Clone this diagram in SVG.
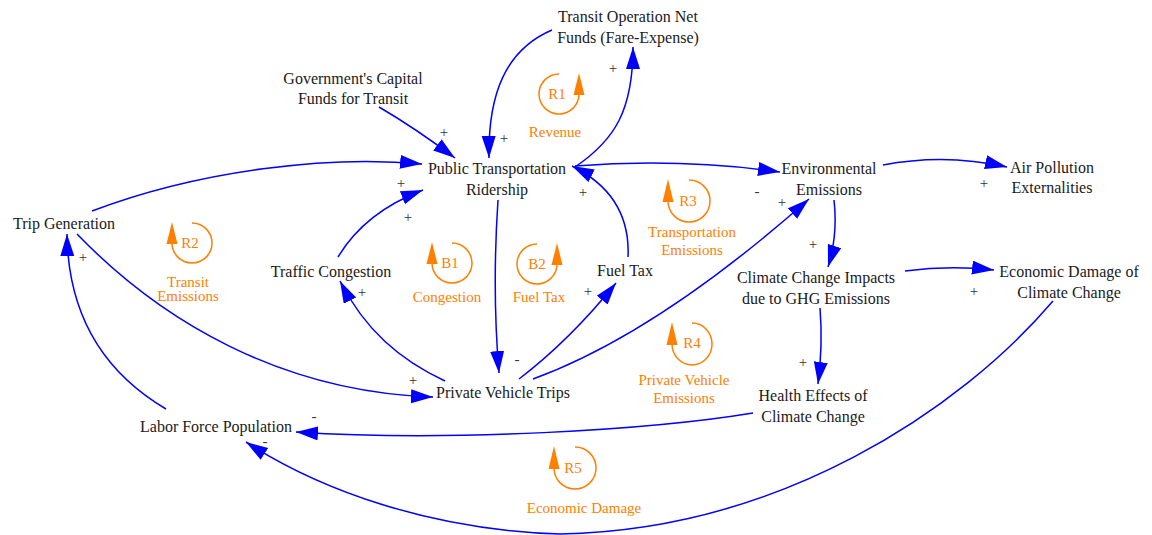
<svg xmlns="http://www.w3.org/2000/svg" width="1152" height="535" viewBox="0 0 1152 535">
<style>
.n{font-family:'Liberation Serif','Times New Roman',serif;font-size:16px;fill:#1a1a1a;text-anchor:middle}
.o{font-family:'Liberation Serif','Times New Roman',serif;font-size:15px;fill:#ff8000;text-anchor:middle}
.s{font-family:'Liberation Serif','Times New Roman',serif;font-size:15px;fill:#333;text-anchor:middle}
.c{fill:none;stroke:#0000ff;stroke-width:1.5;marker-end:url(#ah)}
.la{fill:none;stroke:#ff8000;stroke-width:1.5}
.lh{fill:#ff8000}
</style>
<defs>
<marker id="ah" markerUnits="userSpaceOnUse" markerWidth="23" markerHeight="15" refX="22" refY="7" orient="auto">
<path d="M0,0 L22,7 L0,14 Z" fill="#0000ff"/>
</marker>
</defs>
<rect width="1152" height="535" fill="#ffffff"/>
<g id="connectors">
<path class="c" d="M552,30 C505,50 488,95 489,158"/>
<path class="c" d="M575,167 C615,140 633,110 633,47"/>
<path class="c" d="M379,107 Q415,128 455,158"/>
<path class="c" d="M92,211 C200,170 330,155 422,164"/>
<path class="c" d="M338,257 Q365,212 423,190"/>
<path class="c" d="M445,381 C400,360 365,330 340,281"/>
<path class="c" d="M77,234 C160,320 280,392 433,397"/>
<path class="c" d="M166,409 C100,370 68,310 67,234"/>
<path class="c" d="M498,200 Q492,290 499,373"/>
<path class="c" d="M628,257 C630,215 610,185 572,166"/>
<path class="c" d="M519,379 Q570,340 616,283"/>
<path class="c" d="M533,379 C640,340 740,260 809,199"/>
<path class="c" d="M575,166 Q680,158 780,172"/>
<path class="c" d="M883,165 Q945,153 1007,167"/>
<path class="c" d="M834,200 Q838,235 828,267"/>
<path class="c" d="M905,271 Q950,265 994,270"/>
<path class="c" d="M820,308 Q823,345 818,384"/>
<path class="c" d="M753,413 C650,430 450,442 296,432"/>
<path class="c" d="M1053,301 C960,410 780,530 560,534 C430,530 320,490 246,442"/>
</g>
<g id="signs">
<text class="s" x="613" y="73">+</text>
<text class="s" x="444" y="137">+</text>
<text class="s" x="504" y="143">+</text>
<text class="s" x="401" y="188">+</text>
<text class="s" x="583" y="197">+</text>
<text class="s" x="408" y="222">+</text>
<text class="s" x="83" y="262">+</text>
<text class="s" x="362" y="297">+</text>
<text class="s" x="413" y="385">+</text>
<text class="s" x="588" y="296">+</text>
<text class="s" x="782" y="207">+</text>
<text class="s" x="813" y="249">+</text>
<text class="s" x="803" y="367">+</text>
<text class="s" x="984" y="188">+</text>
<text class="s" x="974" y="296">+</text>
<text class="s" x="757" y="196">-</text>
<text class="s" x="517" y="364">-</text>
<text class="s" x="314" y="421">-</text>
<text class="s" x="265" y="446">-</text>
</g>
<g id="n_transit_op"><text class="n" x="628" y="22">Transit Operation Net</text><text class="n" x="628" y="43">Funds (Fare-Expense)</text></g>
<g id="n_gov"><text class="n" x="353" y="84">Government's Capital</text><text class="n" x="353" y="104">Funds for Transit</text></g>
<g id="n_ptr"><text class="n" x="497" y="174">Public Transportation</text><text class="n" x="497" y="195">Ridership</text></g>
<g id="n_env"><text class="n" x="829" y="174">Environmental</text><text class="n" x="829" y="195">Emissions</text></g>
<g id="n_air"><text class="n" x="1052" y="173">Air Pollution</text><text class="n" x="1052" y="193">Externalities</text></g>
<g id="n_tripgen"><text class="n" x="64" y="229">Trip Generation</text></g>
<g id="n_traffic"><text class="n" x="331" y="277">Traffic Congestion</text></g>
<g id="n_fueltax"><text class="n" x="625" y="276">Fuel Tax</text></g>
<g id="n_climate"><text class="n" x="816" y="283">Climate Change Impacts</text><text class="n" x="816" y="304">due to GHG Emissions</text></g>
<g id="n_econ"><text class="n" x="1069" y="277">Economic Damage of</text><text class="n" x="1069" y="298">Climate Change</text></g>
<g id="n_pvt"><text class="n" x="503" y="398">Private Vehicle Trips</text></g>
<g id="n_health"><text class="n" x="813" y="401">Health Effects of</text><text class="n" x="813" y="422">Climate Change</text></g>
<g id="n_labor"><text class="n" x="216" y="432">Labor Force Population</text></g>
<g id="loop_R1">
<path class="la" d="M559,74 A20,20 0 1 0 579,94"/>
<polygon class="lh" points="573.5,95 579,73 584.5,95"/>
<text class="o" x="557" y="99">R1</text>
<text class="o" x="555" y="137">Revenue</text>
</g>
<g id="loop_R2">
<path class="la" d="M192,223 A20,20 0 1 1 172,243"/>
<polygon class="lh" points="166.5,244 172,222 177.5,244"/>
<text class="o" x="190" y="248">R2</text>
<text class="o" x="188" y="287">Transit</text>
<text class="o" x="188" y="301">Emissions</text>
</g>
<g id="loop_B1">
<path class="la" d="M452,243 A20,20 0 1 1 432,263"/>
<polygon class="lh" points="426.5,264 432,242 437.5,264"/>
<text class="o" x="450" y="268">B1</text>
<text class="o" x="447" y="302">Congestion</text>
</g>
<g id="loop_B2">
<path class="la" d="M537,244 A20,20 0 1 0 557,264"/>
<polygon class="lh" points="551.5,265 557,243 562.5,265"/>
<text class="o" x="537" y="269">B2</text>
<text class="o" x="539" y="302">Fuel Tax</text>
</g>
<g id="loop_R3">
<path class="la" d="M689,180 A21,21 0 1 1 668,201"/>
<polygon class="lh" points="662.5,202 668,179 673.5,202"/>
<text class="o" x="688" y="206">R3</text>
<text class="o" x="692" y="237">Transportation</text>
<text class="o" x="692" y="255">Emissions</text>
</g>
<g id="loop_R4">
<path class="la" d="M692,323 A20,21 0 1 1 672,344"/>
<polygon class="lh" points="666.5,345 672,322 677.5,345"/>
<text class="o" x="692" y="348">R4</text>
<text class="o" x="684" y="385">Private Vehicle</text>
<text class="o" x="684" y="403">Emissions</text>
</g>
<g id="loop_R5">
<path class="la" d="M575,447 A21,21 0 1 1 554,468"/>
<polygon class="lh" points="548.5,469 554,446 559.5,469"/>
<text class="o" x="573" y="473">R5</text>
<text class="o" x="584" y="513">Economic Damage</text>
</g>
</svg>
